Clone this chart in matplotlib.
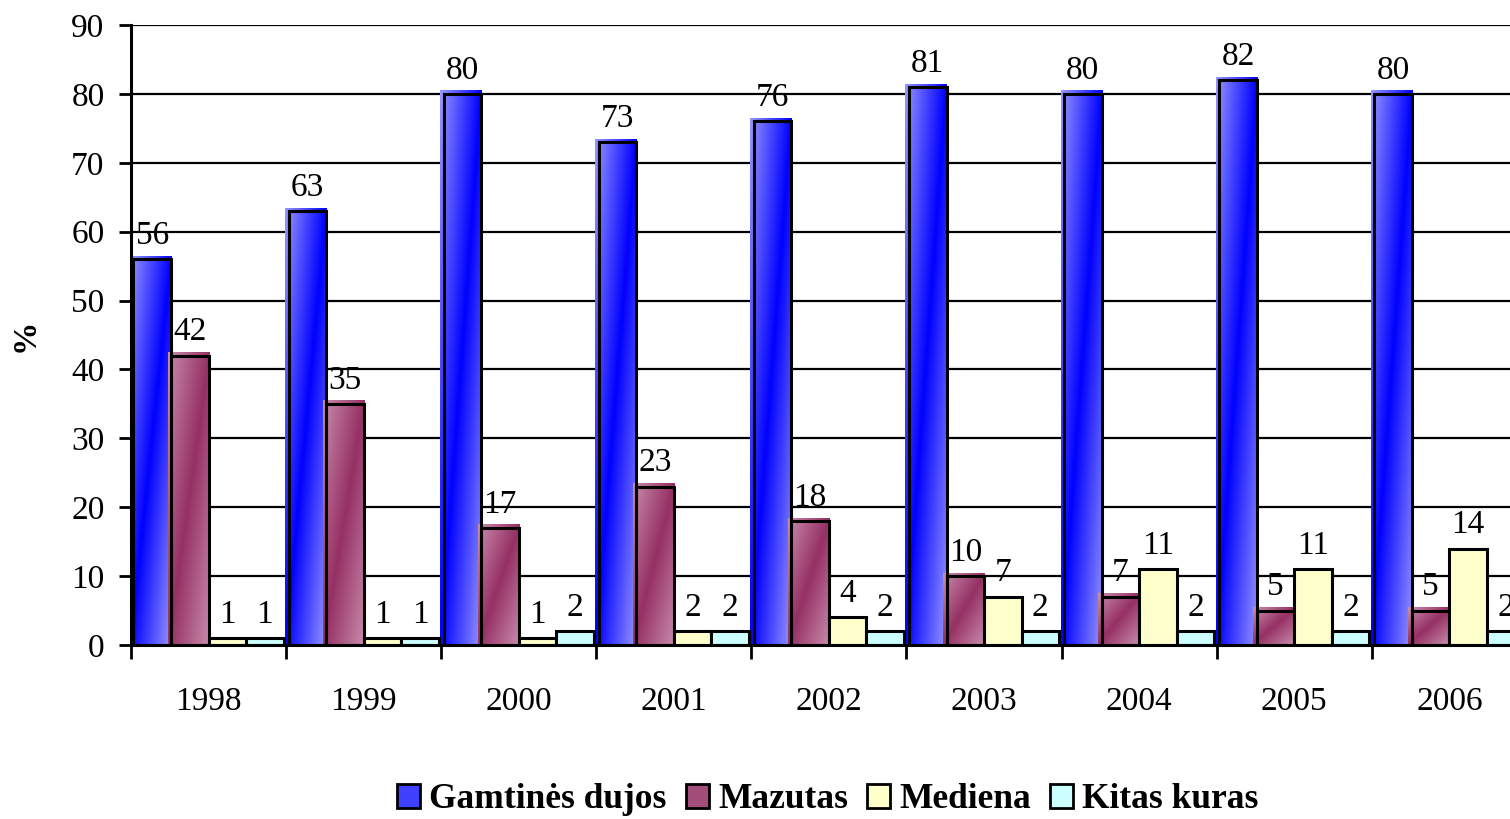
import numpy as np
import matplotlib
matplotlib.use("Agg")
import matplotlib.pyplot as plt
from matplotlib.patches import Patch

years = ["1998", "1999", "2000", "2001", "2002", "2003", "2004", "2005", "2006"]
series_names = ["Gamtinės dujos", "Mazutas", "Mediena", "Kitas kuras"]
gamtines_dujos = [56, 63, 80, 73, 76, 81, 80, 82, 80]
mazutas = [42, 35, 17, 23, 18, 10, 7, 5, 5]
mediena = [1, 1, 1, 2, 4, 7, 11, 11, 14]
kitas_kuras = [1, 1, 2, 2, 2, 2, 2, 2, 2]
y_ticks = [0, 10, 20, 30, 40, 50, 60, 70, 80, 90]

plt.rcParams['font.family'] = ['Liberation Serif', 'DejaVu Serif']

W, H, DPI = 1510, 819, 100
fig = plt.figure(figsize=(W / DPI, H / DPI), dpi=DPI)
ax_left = 131 / W
ax_w = 9 * 155.1 / W
ax_bottom = (H - 645) / H
ax_h = 620 / H
ax = fig.add_axes([ax_left, ax_bottom, ax_w, ax_h])
ax.set_xlim(-0.5, 8.5)
ax.set_ylim(0, 90)

# grid
for yv in y_ticks[1:]:
    ax.axhline(yv, color='black', lw=1.6, zorder=0)

x = np.arange(len(years))
bw = 0.242
offsets = (np.arange(4) - 1.5) * bw
all_series = [gamtines_dujos, mazutas, mediena, kitas_kuras]

grad_colors = {
    0: (np.array([0, 0, 255]) / 255, np.array([150, 150, 255]) / 255),
    1: (np.array([150, 48, 100]) / 255, np.array([200, 140, 172]) / 255),
}
solid_colors = {2: '#FFFFCC', 3: '#CCFFFF'}
legend_colors = ['#4040FF', '#A34D7A', '#FFFFCC', '#CCFFFF']

# pixel offsets for the shifted gradient fill
px_x = 9 / ax_w / W  # data units per pixel in x
px_y = 90 / 620      # data units per pixel in y
dx = 3.5 * px_x
dy = 3.0 * px_y

FS = 24
M = 60
for si, vals in enumerate(all_series):
    xs = x + offsets[si]
    if si in grad_colors:
        dark, light = grad_colors[si]
        for xc, v in zip(xs, vals):
            l, r = xc - bw / 2 - dx, xc + bw / 2
            top = v + dy
            N = max(int(v * 3), 10)
            u = np.linspace(0, 1, M)[None, :]
            vv = np.linspace(1, 0, N)[:, None]
            t = np.clip(np.abs(u - vv), 0, 1)
            img = dark[None, None, :] + (light - dark)[None, None, :] * t[:, :, None]
            ax.imshow(img, extent=(l, r, 0, top), aspect='auto', origin='upper',
                      zorder=2, interpolation='bilinear')
        bars = ax.bar(xs, vals, width=bw, facecolor='none', edgecolor='black',
                      lw=2.2, zorder=3)
    else:
        bars = ax.bar(xs, vals, width=bw, facecolor=solid_colors[si],
                      edgecolor='black', lw=2.2, zorder=3)
    ax.bar_label(bars, labels=[str(v) for v in vals], padding=6, fontsize=FS,
                 zorder=5)

ax.set_xlim(-0.5, 8.5)
ax.set_ylim(0, 90)

# axes styling
for s in ['top', 'right']:
    ax.spines[s].set_visible(False)
ax.spines['left'].set_linewidth(2.2)
ax.spines['bottom'].set_linewidth(2.2)
ax.spines['left'].set_zorder(6)
ax.spines['bottom'].set_zorder(6)

ax.set_yticks(y_ticks)
ax.set_yticklabels([str(v) for v in y_ticks], fontsize=FS)
ax.tick_params(axis='y', direction='out', length=9, width=2, pad=10)

ax.set_xticks(np.arange(-0.5, 9.0, 1.0))
ax.set_xticklabels([])
ax.tick_params(axis='x', which='major', direction='out', length=10, width=2)
ax.set_xticks(x, minor=True)
ax.set_xticklabels(years, minor=True, fontsize=FS)
ax.tick_params(axis='x', which='minor', length=0, pad=30)

ax.set_ylabel('%', fontsize=FS, fontweight='bold', labelpad=22)

handles = [Patch(facecolor=c, edgecolor='black', lw=2) for c in legend_colors]
fig.legend(handles, series_names, loc='center', bbox_to_anchor=(828 / W, 1 - 800 / H),
           ncol=4, frameon=False, prop={'weight': 'bold', 'size': 25.5},
           handlelength=0.65, handleheight=0.65, handletextpad=0.25, columnspacing=0.55)

fig.savefig('out.png', dpi=DPI)
